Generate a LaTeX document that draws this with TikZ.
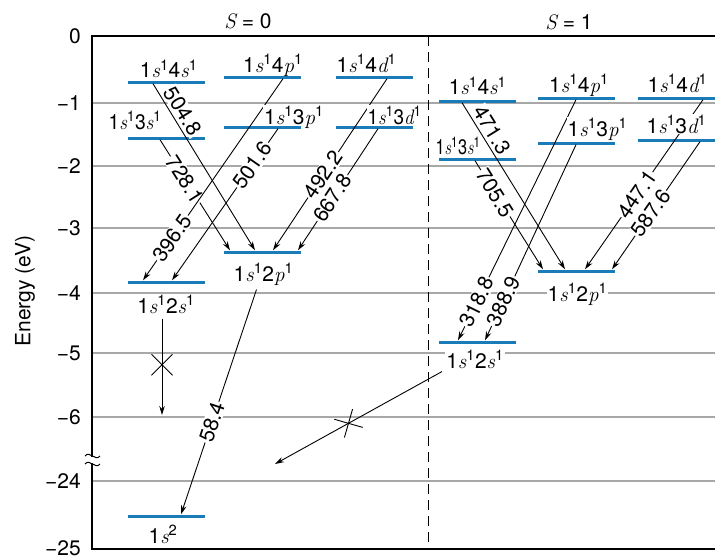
\documentclass[tikz,border=0pt]{standalone}
\usepackage{fontspec}
\setmainfont{TeX Gyre Heros}
\newfontfamily\lmr{Latin Modern Roman}
\usepackage{xcolor}
\usepackage{graphicx}
\usetikzlibrary{arrows.meta, positioning, shapes.misc}
\definecolor{levblue}{HTML}{1A7BB9}
\definecolor{gridgray}{HTML}{A8A8A8}
\newcommand{\vs}[1]{{\lmr\itshape #1}}
\newcommand{\econf}[2]{1\vs{s}\textsuperscript{1}#1\vs{#2}\textsuperscript{1}}
\tikzset{
	lev/.style={fill=levblue, minimum width=77pt, minimum height=3pt, inner sep=0pt},
	levlab/.style={fill=white, inner sep=1pt, text depth=0pt},
	tran/.style={-{Stealth[length=9pt, width=5.5pt]}, line width=0.9pt},
	wl/.style={sloped, fill=white, inner sep=1pt},
	wlside/.style={sloped, above, fill=white, inner sep=1pt, outer sep=2.5pt},
	gridln/.style={gridgray, line width=1.2pt},
	veto/.style={cross out, draw, line width=0.9pt, minimum size=20pt, inner sep=0pt, sloped},
}

\begin{document}
\begin{tikzpicture}[x=1pt, y=-1pt, font=\fontsize{21}{25}\selectfont]
	\useasboundingbox (0,0) rectangle (715,555);

	% grid, frame, axis
	\foreach \y in {103,166,228,293,353,417,481}
		\draw[gridln] (92,\y) -- (715,\y);
	\draw[line width=1.2pt] (715,36) -- (92,36) -- (92,549) -- (715,549);
	\draw[line width=1pt, dash pattern=on 10pt off 6pt] (428,36) -- (428,549);
	\fill[white] (85,457) rectangle (100,463);
	\draw[line width=1pt] (85,456) .. controls (90,450) and (95,462) .. (100,456);
	\draw[line width=1pt] (85,464) .. controls (90,458) and (95,470) .. (100,464);

	\foreach \v/\y [count=\i] in {0/36,−1/103,−2/166,−3/228,−4/293,−5/353,−6/417,−24/481,−25/548}
		\node[anchor=east, inner sep=1pt] (tk\i) at (82,\y) {\v};
	\node[rotate=90] (ylab) at (25,291) {Energy (eV)};
	\node (spin0) at (248,21) {\vs{S} = 0};
	\node (spin1) at (569,22) {\vs{S} = 1};

	% singlet levels
	\node[lev] (S4s) at (166,82) {};
	\node[lev] (S4p) at (262.5,77) {};
	\node[lev] (S4d) at (374.5,77) {};
	\node[lev] (S3s) at (166,138) {};
	\node[lev] (S3p) at (262.5,127) {};
	\node[lev] (S3d) at (374.5,127) {};
	\node[lev] (S2p) at (262.5,252) {};
	\node[lev] (S2s) at (166,282) {};
	\node[lev] (S1s) at (166,516) {};
	% triplet levels
	\node[lev] (T4s) at (477.5,101) {};
	\node[lev] (T4p) at (576.5,98) {};
	\node[lev] (T4d) at (676.5,98) {};
	\node[lev] (T3s) at (477.5,159) {};
	\node[lev] (T3p) at (576.5,143) {};
	\node[lev] (T3d) at (676.5,140) {};
	\node[lev] (T2p) at (576.5,271) {};
	\node[lev] (T2s) at (477.5,342) {};

	% labels under the lower levels
	\node[levlab, below=8.5pt of S2p, xshift=1pt] (S2plab) {\econf{2}{p}};
	\node[levlab, below=10.5pt of S2s] (S2slab) {\econf{2}{s}};
	\node[levlab, below=6.5pt of S1s, xshift=-3pt] (S1slab) {1\vs{s}\textsuperscript{2}};
	\node[levlab, below=9.5pt of T2p, xshift=1pt] (T2plab) {\econf{2}{p}};
	\node[levlab, below=5.5pt of T2s, xshift=-2.5pt] (T2slab) {\econf{2}{s}};

	% singlet transitions
	\draw[tran] ([xshift=-13pt]S4s.south) -- ([xshift=-7.5pt]S2p.north)
		node[wlside, pos=0.2] (w5048) {504.8};
	\draw[tran] ([xshift=-6pt]S3s.south) -- ([xshift=-32.5pt]S2p.north)
		node[wl, pos=0.36] (w7281) {728.1};
	\draw[tran] ([xshift=20.5pt]S4p.south) -- ([xshift=-23pt]S2s.north)
		node[wl, pos=0.79] (w3965) {396.5};
	\draw[tran] ([xshift=15.5pt]S3p.south) -- ([xshift=6pt]S2s.north)
		node[wl, pos=0.24] (w5016) {501.6};
	\draw[tran] ([xshift=12.5pt]S4d.south) -- ([xshift=10.5pt]S2p.north)
		node[wl, pos=0.56] (w4922) {492.2};
	\draw[tran] ([xshift=3.5pt]S3d.south) -- ([xshift=35.5pt]S2p.north)
		node[wl, pos=0.57] (w6678) {667.8};
	\draw[tran] ([xshift=-7pt,yshift=-7pt]S2plab.south) -- ([xshift=15pt]S1s.north)
		node[wl, pos=0.59] (w584) {58.4};
	\coordinate (forbS) at (162,415);
	\draw[tran] ([xshift=-4pt,yshift=-4pt]S2slab.south) -- (forbS)
		node[veto, pos=0.48] (xS) {};

	% triplet transitions
	\draw[tran] ([xshift=-15.5pt]T4s.south) -- ([xshift=-11.5pt]T2p.north)
		node[wlside, pos=0.2] (w4713) {471.3};
	\draw[tran] ([xshift=-2.5pt]T3s.south) -- ([xshift=-33.5pt]T2p.north)
		node[wl, pos=0.3] (w7055) {705.5};
	\draw[tran] ([xshift=-0.5pt]T4p.south) -- ([xshift=-19.5pt]T2s.north)
		node[wl, pos=0.84] (w3188) {318.8};
	\draw[tran] ([xshift=-0.5pt]T3p.south) -- ([xshift=7.5pt]T2s.north)
		node[wl, pos=0.8] (w3889) {388.9};
	\draw[tran] ([xshift=26.5pt]T4d.south) -- ([xshift=8.5pt]T2p.north)
		node[wl, pos=0.56] (w4471) {447.1};
	\draw[tran] ([xshift=23.5pt]T3d.south) -- ([xshift=35.5pt]T2p.north)
		node[wl, pos=0.56] (w5876) {587.6};
	\coordinate (forbT) at (275,464);
	\draw[tran] ([xshift=-33pt,yshift=-2pt]T2slab.south) -- (forbT)
		node[veto, pos=0.56] (xT) {};

	% labels over the upper levels
	\node[levlab, above=1.5pt of S4s, xshift=2.7pt] (S4slab) {\econf{4}{s}};
	\node[levlab, above=1.8pt of S4p, xshift=10.5pt] (S4plab) {\econf{4}{p}};
	\node[levlab, above=1.8pt of S4d, xshift=-8pt] (S4dlab) {\econf{4}{d}};
	\node[levlab, above=6pt of S3s, xshift=-31pt] (S3slab) {\scalebox{0.92}[1]{\econf{3}{s}}};
	\node[levlab, above=0pt of S3p, xshift=31.5pt] (S3plab) {\econf{3}{p}};
	\node[levlab, above=0pt of S3d, xshift=20pt] (S3dlab) {\scalebox{0.9}[1]{\econf{3}{d}}};
	\node[levlab, above=3.5pt of T4s] (T4slab) {\econf{4}{s}};
	\node[levlab, above=2.8pt of T4p, xshift=2.5pt] (T4plab) {\econf{4}{p}};
	\node[levlab, above=2.8pt of T4d, xshift=1pt] (T4dlab) {\econf{4}{d}};
	\node[levlab, above=1.5pt of T3s, xshift=-19.5pt] (T3slab) {\scalebox{0.78}[1]{\econf{3}{s}}};
	\node[levlab, above=4pt of T3p, xshift=21pt] (T3plab) {\econf{3}{p}};
	\node[levlab, above=4pt of T3d] (T3dlab) {\econf{3}{d}};
\end{tikzpicture}
\end{document}
